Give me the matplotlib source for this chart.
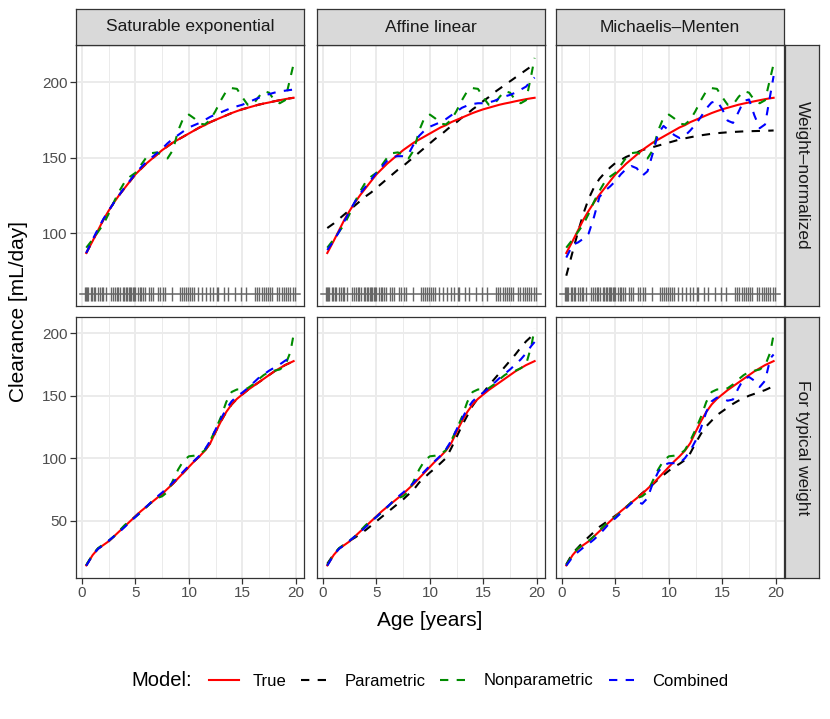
import matplotlib
matplotlib.use("Agg")
import matplotlib.pyplot as plt
from matplotlib.lines import Line2D

plt.rcParams['font.family'] = ['Liberation Sans', 'DejaVu Sans']

# =========================
# DATA
# =========================

ages = [0.4, 1, 1.5, 2, 2.5, 3, 3.5, 4, 4.5, 5, 5.5, 6, 6.5, 7, 7.5, 8, 8.5, 9, 9.5, 10,
        10.5, 11, 11.5, 12, 12.5, 13, 13.5, 14, 14.5, 15, 15.5, 16, 16.5, 17, 17.5, 18,
        18.5, 19, 19.5, 19.8]

col_labels = ["Saturable exponential", "Affine linear", "Michaelis\u2013Menten"]
row_labels = ["Weight\u2013normalized", "For typical weight"]
model_labels = ["True", "Parametric", "Nonparametric", "Combined"]

# --- weight-normalized row ---
true_wn = [87, 95, 102, 109, 115, 120.5, 125.5, 130, 134.5, 139, 142.5, 146, 149, 152, 155,
           157.5, 160, 162, 164, 166, 168, 170, 171.5, 173.5, 175, 176.5, 178, 179.5, 180.8,
           182, 183, 184, 185, 185.8, 186.5, 187.3, 188, 188.7, 189.3, 189.6]

param_wn_sat = true_wn  # parametric fit coincides with truth

param_wn_aff = [103.5, 106.5, 109.5, 112.5, 115.5, 118.5, 121.5, 124.5, 127, 130, 133, 136,
                139, 142, 144.5, 147.5, 150.5, 153.5, 156.5, 159.5, 162.5, 165, 168, 171,
                173.5, 176.5, 179, 182, 184.5, 187.5, 190, 193, 195.5, 198, 200.5, 203,
                205.5, 208, 210.5, 212]

param_wn_mm = [72, 88, 101, 113, 123, 130.5, 136, 140, 143.5, 146.5, 148.5, 150.5, 152, 153.5,
               155, 156, 157, 158, 159, 160, 161, 162, 162.8, 163.5, 164.2, 164.8, 165.3,
               165.8, 166.2, 166.5, 166.8, 167, 167.2, 167.4, 167.5, 167.6, 167.7, 167.8,
               167.9, 168]

nonpar_wn_sat = [90.5, 96, 101, 106, 113, 121, 128, 134, 137.5, 140, 145, 150, 153, 153.5,
                 152, 149.5, 155, 168, 176.5, 178.5, 176, 172.5, 172, 175, 181, 188, 194,
                 196, 195.5, 190, 185, 185, 190, 194, 193, 188, 186, 188, 203, 212]

nonpar_wn_aff = [90.5, 96, 101, 106, 113, 121, 128, 134, 137.5, 140, 145, 150, 153, 153.5,
                 152, 149.5, 155, 168, 176.5, 178.5, 176, 172.5, 172, 175, 181, 188, 194,
                 196, 195.5, 190, 185, 185, 190, 194, 193, 188, 186, 188, 205, 216]

nonpar_wn_mm = nonpar_wn_sat

comb_wn_sat = [87, 96, 103, 109.5, 115, 120.5, 125.5, 130.5, 135, 139.5, 143.5, 147, 150, 153,
               156, 159.5, 162.5, 165, 167.5, 170, 171.5, 173, 175, 177, 178.6, 180, 181.5,
               183, 184, 185, 186.5, 188, 189.5, 191, 192, 193, 193.8, 194.3, 194.8, 195]

comb_wn_aff = [89, 95, 101, 108, 115, 121, 126.5, 131, 135.5, 140, 144, 148, 150.5, 151,
               151, 152.5, 159, 164.5, 168, 170.5, 172, 173.5, 175.5, 178, 180.5, 183, 184.5,
               185.5, 186, 186, 186.5, 187.5, 189, 190.5, 191.5, 193, 195, 197, 201, 203]

comb_wn_mm = [84, 92.5, 94, 96.5, 100, 111, 124, 128, 131, 134.5, 139, 142.5, 144.5, 143, 138,
              141, 153, 166, 171, 168, 165, 163, 164.5, 168, 172, 177, 182.5, 186.5, 187.5,
              182, 174.5, 173, 180, 187.5, 188.5, 178, 169.5, 172, 192, 204]

# --- typical weight row ---
true_tw = [14.2, 22.5, 27.5, 30.5, 33.5, 37.5, 41.5, 45.5, 49.5, 53.5, 57.5, 61, 64.5, 68,
           71.5, 75.5, 79.5, 84, 88.5, 93, 97.5, 101.5, 106, 112, 121, 129.5, 137, 143, 147.5,
           151, 154.5, 157.5, 160.5, 163.5, 166.5, 169.5, 172, 174.5, 176.5, 177.7]

param_tw_sat = true_tw

param_tw_aff = [15.5, 23, 27.6, 31, 34, 36.5, 39.5, 42.5, 46, 49.5, 53, 56.5, 60, 63.5, 67, 71,
                75, 80.5, 84.5, 88.5, 92, 96, 100, 108, 117, 126, 134, 142, 148, 152.5, 158,
                163, 168, 173, 178, 183, 188.5, 193.5, 197.5, 200]

param_tw_mm = [15, 24, 28.5, 33, 37, 41, 45, 48, 51, 54, 57, 61, 64.5, 68, 72, 75.5, 79, 83,
               86.5, 90, 93, 95.5, 98.5, 104, 112, 119.5, 125.5, 130, 134.5, 137.5, 140.5,
               143.5, 146, 148, 150, 151.5, 153, 154.5, 156.5, 157.6]

nonpar_tw_sat = [14.5, 23, 28, 31, 34, 37.5, 42, 46.5, 50, 53, 56.5, 60.5, 65, 68, 69.5, 73,
                 82, 91, 98, 101.5, 102, 103, 106.5, 114, 123, 133, 145, 153, 155, 155, 156,
                 159, 163, 166.5, 169, 170, 171, 174, 185, 199]

nonpar_tw_aff = [14.5, 23, 28, 31, 34, 37.5, 42, 46.5, 50, 53, 56.5, 60.5, 65, 68, 69.5, 73,
                 82, 91, 98, 101.5, 102, 103, 106.5, 114, 123, 133, 145, 153, 155, 155, 156,
                 159, 163, 166.5, 169, 170, 172, 175, 190, 204]

nonpar_tw_mm = nonpar_tw_sat

comb_tw_sat = [14, 22.5, 27.5, 30.5, 34, 37.5, 41, 45, 49, 53, 57, 61, 65, 69, 72.5, 76.5,
               80.5, 85, 89.5, 94, 98, 102, 107, 114, 123, 131.5, 139.5, 145.5, 149.5, 152.5,
               156, 160, 164, 167, 170, 172.5, 175, 178, 180.5, 181.8]

comb_tw_aff = [14, 22.5, 27.5, 30.5, 34, 37.5, 41, 45, 49, 53, 57, 61, 65, 69, 72.5, 76.5,
               80.5, 85, 89.5, 94, 98, 102, 107, 114, 123, 131.5, 139.5, 145.5, 149.5, 152.5,
               156, 160, 164, 167.5, 171, 175, 179, 184, 190, 193]

comb_tw_mm = [14, 21, 25, 28.5, 31.5, 35, 39, 43.7, 48.5, 52, 56, 60, 64, 65.5, 63.5, 68, 80,
              89, 94.5, 96, 96, 96, 100, 106, 114, 124, 137, 145.5, 148.5, 148, 146, 147, 156,
              163.5, 165, 162, 157, 162, 180, 183]

# observed ages (rug in the top row)
rug_ages = [0.3, 0.4, 0.5, 0.6, 0.8, 0.9, 1.1, 1.2, 1.5, 1.7, 1.9, 2.0, 2.2, 2.7, 2.9, 3.1,
            3.3, 3.4, 3.6, 3.8, 3.9, 4.1, 4.2, 4.4, 4.5, 4.6, 4.8, 4.9, 5.0, 5.2, 5.4, 5.5,
            5.7, 5.9, 6.3, 6.5, 6.6, 7.1, 7.3, 7.6, 7.8, 8.4, 9.2, 9.4, 9.5, 9.7, 9.9, 10.1,
            10.3, 10.5, 10.9, 11.2, 11.6, 12.0, 12.3, 12.6, 12.7, 13.3, 13.7, 14.3, 14.9,
            15.3, 16.2, 16.4, 16.6, 16.8, 17.0, 17.2, 17.4, 17.6, 17.8, 18.2, 18.4, 18.7,
            18.9, 19.1, 19.3, 19.5, 19.7, 19.9]
rug_level = 60

# grid of panels: rows x cols -> (true, parametric, nonparametric, combined)
panels = [
    [(true_wn, param_wn_sat, nonpar_wn_sat, comb_wn_sat),
     (true_wn, param_wn_aff, nonpar_wn_aff, comb_wn_aff),
     (true_wn, param_wn_mm, nonpar_wn_mm, comb_wn_mm)],
    [(true_tw, param_tw_sat, nonpar_tw_sat, comb_tw_sat),
     (true_tw, param_tw_aff, nonpar_tw_aff, comb_tw_aff),
     (true_tw, param_tw_mm, nonpar_tw_mm, comb_tw_mm)],
]

# =========================
# STYLE / LAYOUT
# =========================

W, H = 830, 719
COL_LEFT = [75.7, 316.7, 555.7]
COL_W = 228.6
ROW_TOP = [45, 317]
ROW_H = 260.5
STRIP_TOP = 9

LW = 1.5
colors = {"True": "red", "Parametric": "black", "Nonparametric": "#008B00", "Combined": "blue"}
DASH = (0, (4, 4))

ylims = [(52.3, 224.5), (4.5, 213)]
yticks = [[100, 150, 200], [50, 100, 150, 200]]
XLIM = (-0.59, 20.8)

GRID = "#EBEBEB"
BORDER = "#333333"
TICKTXT = "#4D4D4D"


def fig_rect(x, y, w, h):
    return [x / W, 1 - (y + h) / H, w / W, h / H]


fig = plt.figure(figsize=(W / 100, H / 100), dpi=100)

for r in range(2):
    for c in range(3):
        ax = fig.add_axes(fig_rect(COL_LEFT[c], ROW_TOP[r], COL_W, ROW_H))
        ax.set_xlim(*XLIM)
        ax.set_ylim(*ylims[r])
        ax.set_xticks([0, 5, 10, 15, 20])
        ax.set_xticks([2.5, 7.5, 12.5, 17.5], minor=True)
        ax.set_yticks(yticks[r])
        ax.grid(True, which="major", color=GRID, lw=1.4, zorder=0)
        ax.grid(True, which="minor", axis="x", color=GRID, lw=0.7, zorder=0)
        ax.set_axisbelow(True)
        for s in ax.spines.values():
            s.set_color(BORDER)
            s.set_linewidth(0.9)
        ax.tick_params(which="major", length=4, width=0.9, color=BORDER,
                       labelcolor=TICKTXT, labelsize=11, pad=2)
        ax.tick_params(which="minor", length=0)
        if c != 0:
            ax.tick_params(axis="y", labelleft=False, length=0)
        if r != 1:
            ax.tick_params(axis="x", labelbottom=False, length=0)

        tr, pa, npar, co = panels[r][c]
        ax.plot(ages, pa, color=colors["Parametric"], lw=LW, ls=DASH, zorder=2)
        ax.plot(ages, tr, color=colors["True"], lw=LW, zorder=3)
        ax.plot(ages, npar, color=colors["Nonparametric"], lw=LW, ls=DASH, zorder=4)
        ax.plot(ages, co, color=colors["Combined"], lw=LW, ls=DASH, zorder=5)

        if r == 0:
            ax.plot([-0.2, 20.4], [rug_level, rug_level], color="#666666", lw=1.1, zorder=2)
            ax.plot(rug_ages, [rug_level] * len(rug_ages), "|", color="#666666",
                    ms=9.5, mew=1.0, zorder=2)

        # column strips
        if r == 0:
            sax = fig.add_axes(fig_rect(COL_LEFT[c], STRIP_TOP, COL_W, ROW_TOP[0] - STRIP_TOP))
            sax.set_facecolor("#D9D9D9")
            sax.set_xticks([])
            sax.set_yticks([])
            for s in sax.spines.values():
                s.set_color(BORDER)
                s.set_linewidth(0.9)
            sax.text(0.5, 0.5, col_labels[c], ha="center", va="center",
                     fontsize=12.5, color="#1A1A1A", transform=sax.transAxes)

    # row strips
    rax = fig.add_axes(fig_rect(785.3, ROW_TOP[r], 34, ROW_H))
    rax.set_facecolor("#D9D9D9")
    rax.set_xticks([])
    rax.set_yticks([])
    for s in rax.spines.values():
        s.set_color(BORDER)
        s.set_linewidth(0.9)
    rax.text(0.5, 0.5, row_labels[r], ha="center", va="center", rotation=-90,
             fontsize=12.5, color="#1A1A1A", transform=rax.transAxes)

# axis titles
fig.text(430 / W, 1 - 620 / H, "Age [years]", ha="center", va="center", fontsize=15)
fig.text(18 / W, 1 - 311 / H, "Clearance [mL/day]", ha="center", va="center",
         rotation=90, fontsize=15)

# legend
fig.text(131 / W, 1 - 681 / H, "Model:", ha="left", va="center", fontsize=14.5)
handles = [
    Line2D([], [], color=colors["True"], lw=LW),
    Line2D([], [], color=colors["Parametric"], lw=LW, ls=DASH),
    Line2D([], [], color=colors["Nonparametric"], lw=LW, ls=DASH),
    Line2D([], [], color=colors["Combined"], lw=LW, ls=DASH),
]
fig.legend(handles, model_labels, loc="center left", bbox_to_anchor=(209 / W, 1 - 681 / H),
           ncol=4, frameon=False, fontsize=12, handlelength=1.8, handletextpad=0.8,
           columnspacing=0.9, borderaxespad=0, borderpad=0)

fig.savefig("out.png", dpi=100)
